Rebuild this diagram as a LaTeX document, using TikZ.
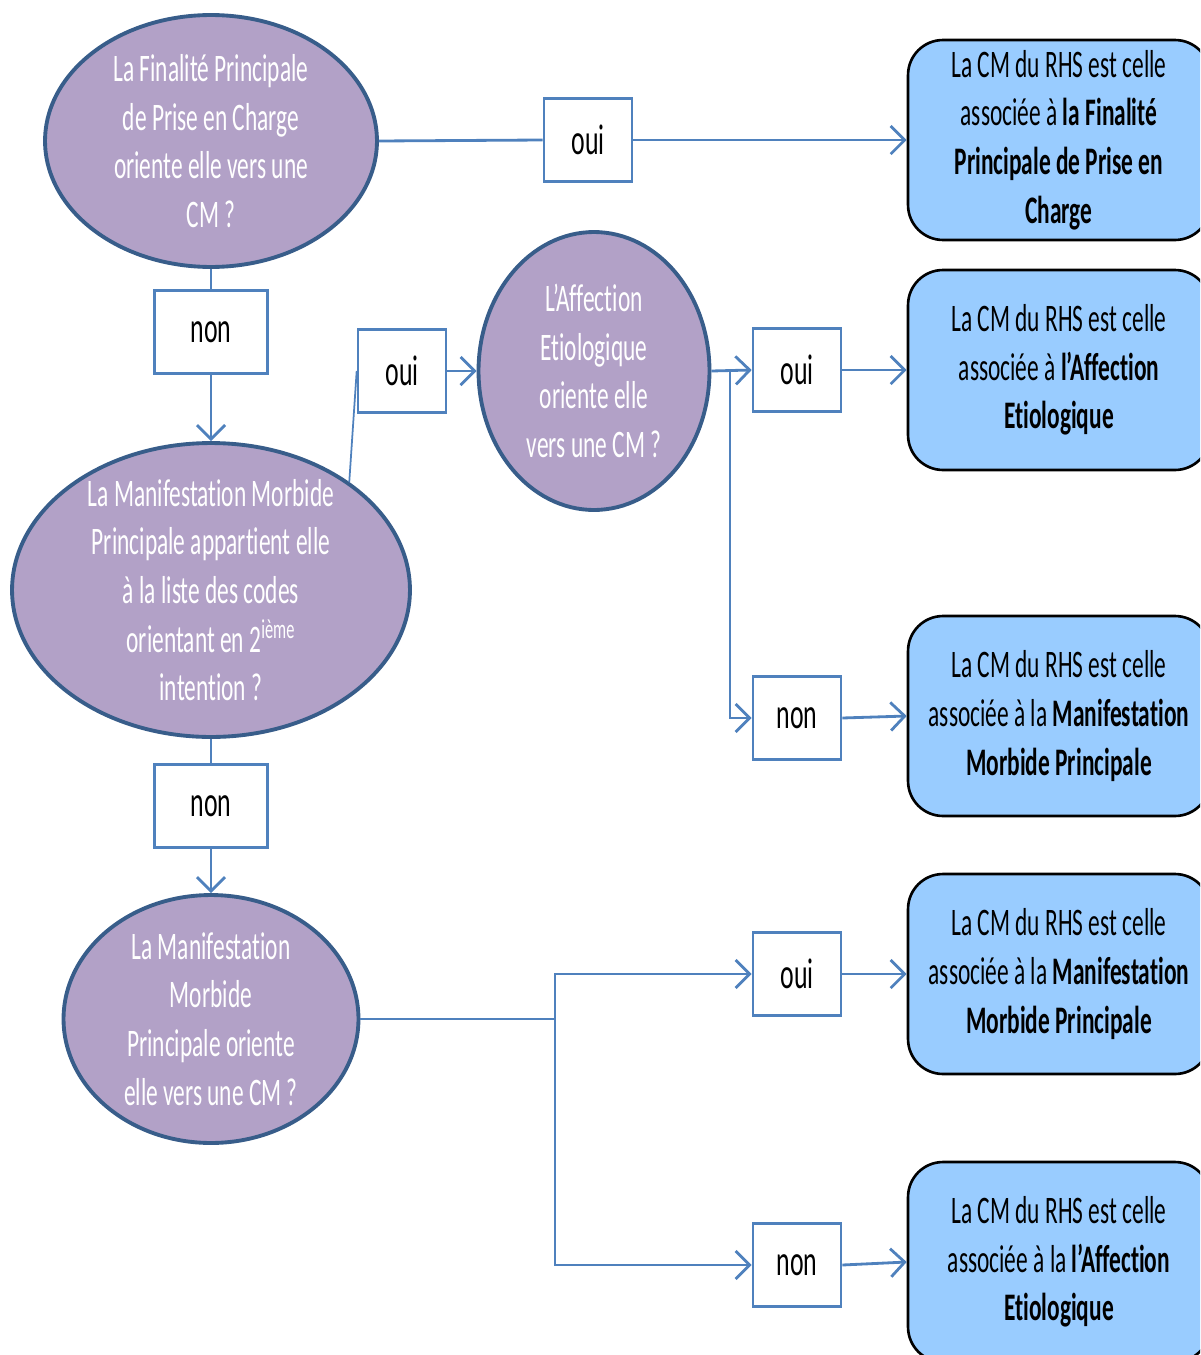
\documentclass[tikz,border=0pt]{standalone}
\usepackage{fontspec}
\setmainfont{Carlito}[FakeStretch=0.6, Ligatures=NoCommon]
\usetikzlibrary{positioning,calc,arrows.meta,shapes}

\definecolor{qfill}{RGB}{178,161,199}
\definecolor{qborder}{RGB}{56,93,138}
\definecolor{linkblue}{RGB}{79,129,189}
\definecolor{resfill}{RGB}{153,204,255}

\begin{document}
\begin{tikzpicture}
    [
    x=0.02cm, y=-0.02cm,
    >={Straight Barb[length=8pt, width=16pt]},
    question/.style={
      ellipse, draw=qborder, fill=qfill,
      line width=2.2pt, inner sep=0pt
    },
    qtext/.style={
      text=white, align=center,
      font=\fontsize{22.2pt}{27.7pt}\selectfont
    },
    answer/.style={
      rectangle, draw=linkblue, fill=white, line width=1.5pt,
      minimum width=1.76cm, minimum height=1.66cm, inner sep=0pt,
      font=\fontsize{24.5pt}{29pt}\selectfont
    },
    result/.style={
      rectangle, rounded corners=0.7cm, draw=black, fill=resfill,
      line width=1.5pt, minimum width=6.04cm, minimum height=4cm,
      align=center, font=\fontsize{22.2pt}{27.7pt}\selectfont
    },
    link/.style={
      line width=1.6pt, draw=linkblue
    }
    ]
    \useasboundingbox (0,0) rectangle (1200,1355);
    \clip (0,0) rectangle (1200,1355);

    % The questions
    \node[question, minimum width=6.64cm, minimum height=5.04cm] (fpc) at (211,141) {};
    \node[qtext] (fpct) at (fpc) {La Finalité Principale\\de Prise en Charge\\oriente elle vers une\\CM ?};
    \node[question, minimum width=7.96cm, minimum height=5.88cm] (mmp) at (211,590) {};
    \node[qtext] (mmpt) at (mmp) {La Manifestation Morbide\\Principale appartient elle\\à la liste des codes\\orientant en 2\textsuperscript{ième}\\intention ?};
    \node[question, minimum width=5.9cm, minimum height=4.96cm] (mmo) at (211,1019) {};
    \node[qtext] (mmot) at (mmo) {La Manifestation\\Morbide\\Principale oriente\\elle vers une CM ?};
    \node[question, minimum width=4.62cm, minimum height=5.56cm] (aet) at (594,371) {};
    \node[qtext] (aett) at (aet) {L’Affection\\Etiologique\\oriente elle\\vers une CM ?};

    % The answers
    \foreach \name/\x/\y/\txt in {
          ouiA/588/140/oui,
          ouiB/402/371/oui,
          ouiC/797/370/oui,
          nonC/797/718/non,
          ouiD/797/974/oui,
          nonD/797/1265/non
    } {
      \node[answer] (\name) at (\x,\y) {\txt};
    }
    \node[answer, minimum width=2.26cm] (nonA) at (211,332) {non};
    \node[answer, minimum width=2.26cm] (nonB) at (211,806) {non};

    % The results
    \node[result] (resA) at (1059,140) {La CM du RHS est celle\\associée à \textbf{la Finalité}\\\textbf{Principale  de Prise en}\\\textbf{Charge}};
    \node[result] (resB) at (1059,370) {La CM du RHS est celle\\associée à \textbf{l’Affection}\\\textbf{Etiologique}};
    \node[result] (resC) at (1059,716) {La CM du RHS est celle\\associée à la \textbf{Manifestation}\\\textbf{Morbide Principale}};
    \node[result] (resD) at (1059,974) {La CM du RHS est celle\\associée à la \textbf{Manifestation}\\\textbf{Morbide Principale}};
    \node[result] (resE) at (1059,1262) {La CM du RHS est celle\\associée à la \textbf{l’Affection}\\\textbf{Etiologique}};

    % Draw the links
    \coordinate (brA) at (730,370);
    \coordinate (brB) at (555,1019);
    \draw[link] (fpc.east) -- (ouiA.west);
    \draw[link, ->] (ouiA.east) -- (resA.west);
    \draw[link] (fpc.south) -- (nonA.north);
    \draw[link, ->] (nonA.south) -- (mmp.north);
    \draw[link, line width=1pt] (mmp.38) -- (ouiB.west);
    \draw[link, ->] (ouiB.east) -- (aet.west);
    \draw[link, ->] (aet.east) -- (ouiC.west);
    \draw[link, ->] (brA) |- (nonC.west);
    \draw[link, ->] (ouiC.east) -- (resB.west);
    \draw[link, ->] (nonC.east) -- (resC.west);
    \draw[link] (mmp.south) -- (nonB.north);
    \draw[link, ->] (nonB.south) -- (mmo.north);
    \draw[link] (mmo.east) -- (brB);
    \draw[link, ->] (brB) |- (ouiD.west);
    \draw[link, ->] (brB) |- (nonD.west);
    \draw[link, ->] (ouiD.east) -- (resD.west);
    \draw[link, ->] (nonD.east) -- (resE.west);
\end{tikzpicture}
\end{document}
